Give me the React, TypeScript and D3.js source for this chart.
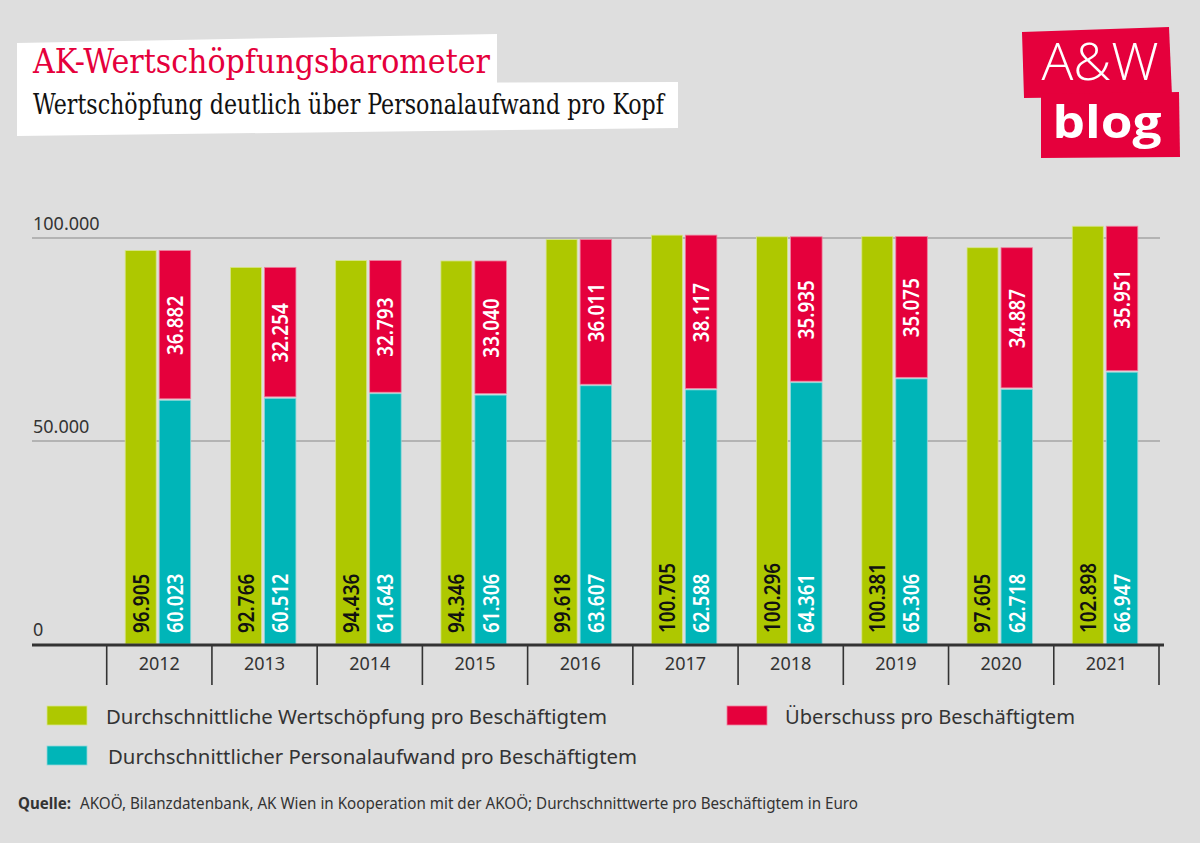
import React from 'react';
import * as d3 from 'd3';

const years = ['2012', '2013', '2014', '2015', '2016', '2017', '2018', '2019', '2020', '2021'];
const wertschoepfung = [96905, 92766, 94436, 94346, 99618, 100705, 100296, 100381, 97605, 102898];
const personalaufwand = [60023, 60512, 61643, 61306, 63607, 62588, 64361, 65306, 62718, 66947];
const ueberschuss = [36882, 32254, 32793, 33040, 36011, 38117, 35935, 35075, 34887, 35951];
const yTicks = [0, 50000, 100000];

const legendLabels = [
  'Durchschnittliche Wertschöpfung pro Beschäftigtem',
  'Durchschnittlicher Personalaufwand pro Beschäftigtem',
  'Überschuss pro Beschäftigtem',
];

const GREEN = '#aec800';
const TEAL = '#00b5b8';
const RED = '#e5003c';
const BG = '#dedede';
const INK = '#333333';

const W = 1200;
const H = 843;

const locale = d3.formatLocale({ decimal: ',', thousands: '.', grouping: [3], currency: ['', ' €'] });
const fmt = locale.format(',');

const SANS = "'Noto Sans', 'Open Sans', sans-serif";
const SLAB = "'DejaVu Serif Condensed', 'DejaVu Serif', serif";

export default function App() {
  const x = d3.scaleBand<string>().domain(years).range([106.7, 1159]).paddingInner(0).paddingOuter(0);
  const y = d3.scaleLinear().domain([0, 100000]).range([644, 238]);
  const bw = x.bandwidth();
  const gOff = 18.5;
  const gW = 31;
  const sOff = gOff + gW + 3;
  const sW = 31.5;
  const labelScale = 'scale(0.9,1)';

  return (
    <div style={{ position: 'absolute', left: 0, top: 0, width: W, height: H }}>
      <svg width={W} height={H} style={{ display: 'block' }}>
        <rect x={0} y={0} width={W} height={H} fill={BG} />

        {/* Title boxes */}
        <polygon points="17,43 497,34 497,86 17,86" fill="#ffffff" />
        <polygon points="17,84 678,82 678,128 17,136" fill="#ffffff" />
        <text x={33} y={73} fill={RED} fontFamily={SLAB} fontSize={33}
          textLength={457} lengthAdjust="spacingAndGlyphs">AK-Wertschöpfungsbarometer</text>
        <text x={33} y={114} fill="#111" fontFamily={SLAB} fontSize={27}
          textLength={631} lengthAdjust="spacingAndGlyphs">Wertschöpfung deutlich über Personalaufwand pro Kopf</text>

        {/* Logo */}
        <polygon points="1022,32 1169,27 1172,96 1024,98" fill={RED} />
        <polygon points="1041,94 1179,92 1180,157 1041,158" fill={RED} />
        <text x={1100} y={80} fill="#fff" fontFamily="'Open Sans', sans-serif" fontWeight={300} fontSize={51}
          textAnchor="middle" textLength={117} lengthAdjust="spacingAndGlyphs">A&amp;W</text>
        <text x={1107} y={138} fill="#fff" fontFamily="'Open Sans', sans-serif" fontWeight={700} fontSize={45}
          textAnchor="middle" textLength={109} lengthAdjust="spacingAndGlyphs">blog</text>

        {/* Gridlines */}
        {yTicks.filter(t => t > 0).map(t => (
          <line key={t} x1={32} x2={1160} y1={y(t)} y2={y(t)} stroke="#b3b3b3" strokeWidth={2} />
        ))}
        {yTicks.map(t => (
          <text key={'l' + t} x={33} y={y(t) - 8} fill={INK} fontFamily={SANS} fontSize={18}>{fmt(t)}</text>
        ))}

        {/* Bars */}
        {years.map((yr, i) => {
          const x0 = x(yr)!;
          const gx = x0 + gOff;
          const sx = x0 + sOff;
          const top = y(wertschoepfung[i]);
          const mid = y(personalaufwand[i]);
          const base = y(0);
          const topR = y(personalaufwand[i] + ueberschuss[i]);
          return (
            <g key={yr}>
              <rect x={gx} y={top} width={gW} height={base - top} fill={GREEN} stroke="#d6e58a" strokeWidth={0.8} />
              <rect x={sx} y={mid} width={sW} height={base - mid} fill={TEAL} stroke="#8fd8d9" strokeWidth={0.8} />
              <rect x={sx} y={topR} width={sW} height={mid - topR - 1.5} fill={RED} stroke="#ef7f9d" strokeWidth={0.8} />
              <text transform={`translate(${gx + gW / 2},${base - 11}) rotate(-90) ${labelScale}`} fill="#111"
                fontFamily={SANS} fontWeight={600} fontSize={21} dominantBaseline="central">{fmt(wertschoepfung[i])}</text>
              <text transform={`translate(${sx + sW / 2},${base - 11}) rotate(-90) ${labelScale}`} fill="#fff"
                fontFamily={SANS} fontWeight={600} fontSize={21} dominantBaseline="central">{fmt(personalaufwand[i])}</text>
              <text transform={`translate(${sx + sW / 2},${(topR + mid) / 2}) rotate(-90) ${labelScale}`} fill="#fff"
                fontFamily={SANS} fontWeight={600} fontSize={21} textAnchor="middle"
                dominantBaseline="central">{fmt(ueberschuss[i])}</text>
            </g>
          );
        })}

        {/* X axis */}
        <line x1={32} x2={1164} y1={y(0) + 1} y2={y(0) + 1} stroke={INK} strokeWidth={3} />
        {[...years.map(yr => x(yr)!), x(years[years.length - 1])! + bw].map((tx, i) => (
          <line key={'t' + i} x1={tx} x2={tx} y1={y(0) + 2} y2={685} stroke={INK} strokeWidth={1.6} />
        ))}
        {years.map(yr => (
          <text key={'y' + yr} x={x(yr)! + bw / 2} y={670} fill={INK} fontFamily={SANS} fontSize={18}
            textAnchor="middle">{yr}</text>
        ))}

        {/* Legend */}
        <rect x={47} y={706} width={40} height={19} fill={GREEN} stroke="#d6e58a" strokeWidth={0.8} />
        <text x={106} y={724} fill={INK} fontFamily={SANS} fontSize={20} textLength={501}
          lengthAdjust="spacingAndGlyphs">{legendLabels[0]}</text>
        <rect x={47} y={746} width={40} height={19} fill={TEAL} stroke="#8fd8d9" strokeWidth={0.8} />
        <text x={108} y={764} fill={INK} fontFamily={SANS} fontSize={20} textLength={529}
          lengthAdjust="spacingAndGlyphs">{legendLabels[1]}</text>
        <rect x={727} y={706} width={40} height={19} fill={RED} stroke="#ef7f9d" strokeWidth={0.8} />
        <text x={785} y={724} fill={INK} fontFamily={SANS} fontSize={20} textLength={290}
          lengthAdjust="spacingAndGlyphs">{legendLabels[2]}</text>

        {/* Source */}
        <text x={18} y={809} fill={INK} fontFamily={SANS} fontSize={16} fontWeight={700} textLength={53}
          lengthAdjust="spacingAndGlyphs">Quelle:</text>
        <text x={80} y={809} fill={INK} fontFamily={SANS} fontSize={16} textLength={778}
          lengthAdjust="spacingAndGlyphs">AKOÖ, Bilanzdatenbank, AK Wien in Kooperation mit der AKOÖ; Durchschnittwerte pro Beschäftigtem in Euro</text>
      </svg>
    </div>
  );
}
